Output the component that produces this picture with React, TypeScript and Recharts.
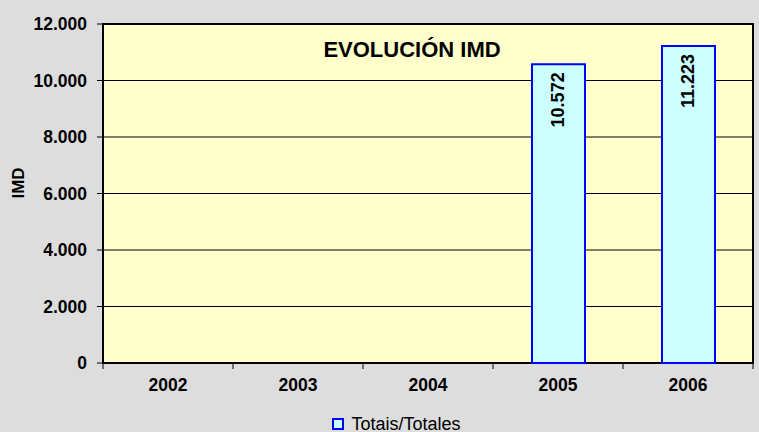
import { Bar, BarChart, CartesianGrid, LabelList, Legend, ReferenceArea, XAxis, YAxis } from 'recharts';

const years = ['2002', '2003', '2004', '2005', '2006'];
const totals = [null, null, null, 10572, 11223];
const yTicks = [0, 2000, 4000, 6000, 8000, 10000, 12000];

const FONT = '"Liberation Sans", Arial, sans-serif';

const data = years.map((y, i) => ({ year: y, total: totals[i] }));

// 10572 -> "10.572"
function fmt(v: number): string {
  return String(Math.round(v)).replace(/\B(?=(\d{3})+(?!\d))/g, '.');
}

function XTick({ x, y, payload, index }: { x?: number; y?: number; payload?: { value?: string; offset?: number }; index?: number }) {
  const half = payload?.offset || 65;
  const cx = x ?? 0;
  const top = (y ?? 0) - 8;
  return (
    <g>
      <line x1={cx - half} x2={cx - half} y1={top} y2={top + 6} stroke="#000" />
      {index === years.length - 1 && <line x1={cx + half} x2={cx + half} y1={top} y2={top + 6} stroke="#000" />}
      <text x={cx} y={top + 28} textAnchor="middle" fontSize={17.5} fontWeight={700} fill="#000" fontFamily={FONT}>
        {payload?.value}
      </text>
    </g>
  );
}

function BarValue(props: { x?: number; y?: number; width?: number; value?: number }) {
  const { x = 0, y = 0, width = 0, value } = props;
  if (value == null) return null;
  const cx = x + width / 2;
  const cy = y + 8;
  return (
    <text
      x={cx}
      y={cy}
      transform={`rotate(-90 ${cx} ${cy})`}
      textAnchor="end"
      dominantBaseline="central"
      fontSize={18}
      fontWeight={700}
      fill="#000"
      fontFamily={FONT}
    >
      {fmt(value)}
    </text>
  );
}

function LegendBox() {
  return (
    <div
      style={{
        display: 'flex',
        justifyContent: 'center',
        alignItems: 'center',
        height: 24,
        boxSizing: 'border-box',
        paddingTop: 8,
        paddingLeft: 40,
        fontFamily: FONT,
        fontSize: 18,
        color: '#000',
      }}
    >
      <span style={{ width: 8, height: 8, border: '2px solid #0000ff', background: '#ccffff', marginRight: 7 }} />
      <span>Totais/Totales</span>
    </div>
  );
}

export default function App() {
  return (
    <div style={{ position: 'absolute', left: 0, top: 0, width: 759, height: 432, background: '#dddddd' }}>
      <BarChart width={759} height={432} data={data} margin={{ top: 24, right: 6, left: 0, bottom: 0 }}>
        <CartesianGrid vertical={false} stroke="#000" fill="#ffffcc" fillOpacity={1} />
        <XAxis dataKey="year" height={45} axisLine={false} tickLine={false} tick={<XTick />} interval={0} />
        <YAxis
          width={103}
          domain={[0, 12000]}
          ticks={yTicks}
          tickFormatter={fmt}
          tickSize={6}
          tickMargin={10}
          axisLine={false}
          tickLine={{ stroke: '#000' }}
          tick={{ fontSize: 17.5, fontWeight: 700, fill: '#000', fontFamily: FONT }}
          label={{
            content: () => (
              <text x={18} y={183} transform="rotate(-90 18 183)" textAnchor="middle" dominantBaseline="central" fontSize={17} fontWeight={700} fill="#000" fontFamily={FONT}>
                IMD
              </text>
            ),
          }}
        />
        <Legend verticalAlign="bottom" height={24} content={<LegendBox />} />
        <Bar dataKey="total" barSize={53} fill="#ccffff" stroke="#0000ff" strokeWidth={2} isAnimationActive={false}>
          <LabelList dataKey="total" content={<BarValue />} />
        </Bar>
        <ReferenceArea y1={0} y2={12000} fill="none" stroke="#000" strokeWidth={2} ifOverflow="visible" />
      </BarChart>
      <div
        style={{
          position: 'absolute',
          left: 412,
          top: 39,
          transform: 'translateX(-50%)',
          fontFamily: FONT,
          fontSize: 22,
          fontWeight: 700,
          lineHeight: '22px',
          whiteSpace: 'nowrap',
          color: '#000',
        }}
      >
        EVOLUCIÓN IMD
      </div>
    </div>
  );
}
